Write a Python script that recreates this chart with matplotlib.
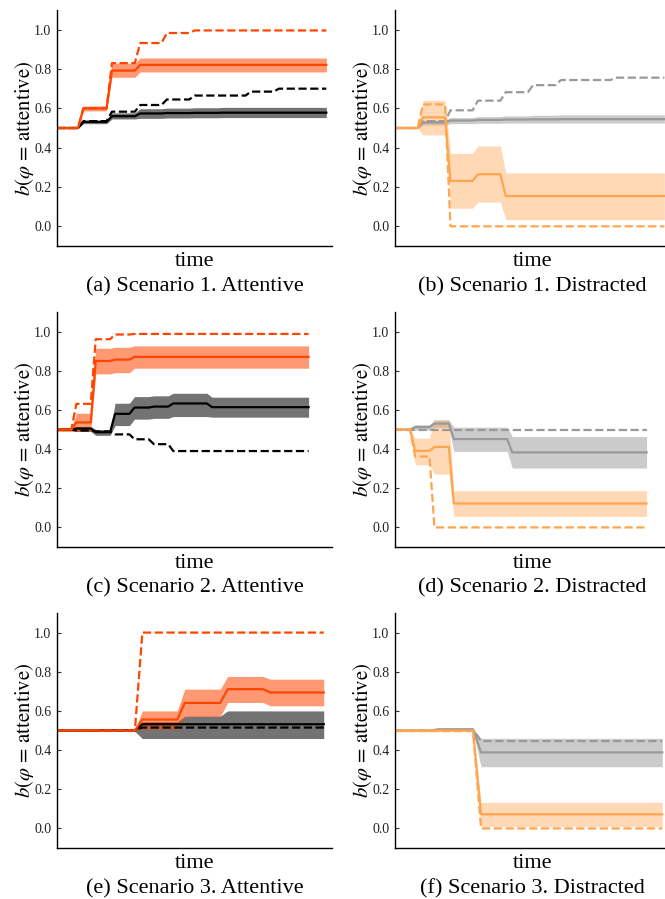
import matplotlib
matplotlib.use("Agg")
import matplotlib.pyplot as plt
import numpy as np

plt.rcParams['font.family'] = ['Liberation Serif', 'DejaVu Serif']
plt.rcParams['mathtext.fontset'] = 'stix'

### values (time runs 0..100, plateaus between belief updates)
# (a) scenario 1, attentive
chg_a = [7.8, 18.4, 28.9, 38.8, 49.1, 59.6, 70.0, 80.4, 90.7]
a_mean = [0.5, 0.60, 0.792, 0.821]
a_lo = [0.497, 0.587, 0.758, 0.785]
a_hi = [0.503, 0.612, 0.830, 0.856]
a_dash = [0.5, 0.60, 0.83, 0.932, 0.983, 0.996]
a2_mean = [0.5, 0.531, 0.56, 0.574, 0.576, 0.577, 0.578]
a2_lo = [0.497, 0.522, 0.546, 0.549, 0.551, 0.552, 0.553]
a2_hi = [0.503, 0.54, 0.577, 0.598, 0.601, 0.603, 0.605]
a2_dash = [0.5, 0.535, 0.583, 0.617, 0.645, 0.665, 0.665, 0.685, 0.70]

# (b) scenario 1, distracted
chg_b = [8.4, 18.6, 28.8, 39.1, 49.3, 59.6, 69.5, 80.0, 90.2]
b_mean = [0.5, 0.554, 0.231, 0.265, 0.154]
b_lo = [0.497, 0.465, 0.092, 0.123, 0.034]
b_hi = [0.503, 0.641, 0.371, 0.409, 0.272]
b_dash = [0.5, 0.62, 0.0]
b2_mean = [0.5, 0.528, 0.538, 0.541, 0.543, 0.544, 0.545]
b2_lo = [0.497, 0.515, 0.522, 0.524, 0.525]
b2_hi = [0.503, 0.54, 0.553, 0.558, 0.562, 0.565, 0.567]
b2_dash = [0.5, 0.535, 0.59, 0.639, 0.682, 0.718, 0.744, 0.744, 0.756]

# (c) scenario 2, attentive
chg_c = [5.7, 13.4, 21.1, 28.8, 36.5, 44.2, 51.9, 59.6, 67.3, 75.0, 82.7, 90.4]
c_mean = [0.5, 0.536, 0.85, 0.857, 0.871]
c_lo = [0.49, 0.49, 0.784, 0.79, 0.813]
c_hi = [0.51, 0.583, 0.915, 0.92, 0.927]
c_dash = [0.5, 0.631, 0.961, 0.985, 0.988]
c2_mean = [0.5, 0.505, 0.486, 0.58, 0.612, 0.617, 0.633, 0.633, 0.614]
c2_lo = [0.497, 0.49, 0.47, 0.52, 0.553, 0.557, 0.566, 0.566, 0.563]
c2_hi = [0.503, 0.515, 0.50, 0.634, 0.668, 0.672, 0.685, 0.685, 0.665]
c2_dash = [0.5, 0.495, 0.49, 0.475, 0.45, 0.425, 0.39]

# (d) scenario 2, distracted
chg_d = [6.0, 13.7, 21.4, 29.1, 36.8, 44.6, 52.3, 60.0, 67.7, 75.4, 83.2, 90.8]
d_mean = [0.5, 0.391, 0.411, 0.122]
d_lo = [0.497, 0.32, 0.272, 0.056]
d_hi = [0.503, 0.456, 0.549, 0.187]
d_dash = [0.5, 0.362, 0.0]
d2_mean = [0.5, 0.512, 0.53, 0.451, 0.451, 0.451, 0.383]
d2_lo = [0.497, 0.497, 0.51, 0.388, 0.388, 0.388, 0.303]
d2_hi = [0.503, 0.525, 0.549, 0.512, 0.512, 0.512, 0.464]
d2_dash = [0.5, 0.5]

# (e) scenario 3, attentive
chg_e = [13.2, 29.2, 45.1, 61.2, 77.2, 93.1]
e_mean = [0.5, 0.5, 0.556, 0.641, 0.711, 0.694]
e_lo = [0.497, 0.497, 0.507, 0.571, 0.643, 0.626]
e_hi = [0.503, 0.503, 0.60, 0.711, 0.776, 0.762]
e_dash = [0.5, 0.5, 1.0]
e2_mean = [0.5, 0.502, 0.532]
e2_lo = [0.497, 0.495, 0.459]
e2_hi = [0.503, 0.508, 0.545, 0.573, 0.60]
e2_dash = [0.5, 0.5, 0.515]

# (f) scenario 3, distracted
chg_f = [13.2, 29.2, 45.1, 61.2, 77.2, 93.1]
f_mean = [0.5, 0.5, 0.072]
f_lo = [0.497, 0.497, 0.01]
f_hi = [0.503, 0.503, 0.133]
f_dash = [0.497, 0.497, 0.0]
f2_mean = [0.5, 0.506, 0.388]
f2_lo = [0.497, 0.5, 0.315]
f2_hi = [0.503, 0.512, 0.46]
f2_dash = [0.5, 0.503, 0.446]

captions = ["(a) Scenario 1. Attentive", "(b) Scenario 1. Distracted",
            "(c) Scenario 2. Attentive", "(d) Scenario 2. Distracted",
            "(e) Scenario 3. Attentive", "(f) Scenario 3. Distracted"]

RED, BLACK, ORANGE, GRAY = '#ff4500', '#000000', '#ffa54f', '#999999'


def steps(changes, vals, ramp):
    n = len(changes) + 1
    vals = list(vals) + [vals[-1]] * (n - len(vals))
    starts = [0.0] + [c + ramp for c in changes]
    ends = list(changes) + [100.0]
    xs, ys = [], []
    for s, e, v in zip(starts, ends, vals):
        xs += [s, e]
        ys += [v, v]
    return np.array(xs), np.array(ys)


panels = [
    (chg_a, 2.0, 102.1, RED, 0.55, BLACK, 0.55,
     (a_mean, a_lo, a_hi, a_dash), (a2_mean, a2_lo, a2_hi, a2_dash)),
    (chg_b, 2.0, 102.1, ORANGE, 0.42, GRAY, 0.5,
     (b_mean, b_lo, b_hi, b_dash), (b2_mean, b2_lo, b2_hi, b2_dash)),
    (chg_c, 2.0, 109.3, RED, 0.55, BLACK, 0.55,
     (c_mean, c_lo, c_hi, c_dash), (c2_mean, c2_lo, c2_hi, c2_dash)),
    (chg_d, 2.0, 109.3, ORANGE, 0.42, GRAY, 0.5,
     (d_mean, d_lo, d_hi, d_dash), (d2_mean, d2_lo, d2_hi, d2_dash)),
    (chg_e, 2.8, 103.1, RED, 0.55, BLACK, 0.55,
     (e_mean, e_lo, e_hi, e_dash), (e2_mean, e2_lo, e2_hi, e2_dash)),
    (chg_f, 3.0, 102.9, ORANGE, 0.42, GRAY, 0.5,
     (f_mean, f_lo, f_hi, f_dash), (f2_mean, f2_lo, f2_hi, f2_dash)),
]

W, H = 665, 899
fig = plt.figure(figsize=(W / 100, H / 100), dpi=100)

lefts = [57, 395]
tops = [10, 312, 613]
bottoms = [246, 547, 848]
axw = 275

for i, p in enumerate(panels):
    chg, ramp, xmax, c1, al1, c2, al2, s1, s2 = p
    row, col = i // 2, i % 2
    axh = bottoms[row] - tops[row]
    ax = fig.add_axes([lefts[col] / W, (H - bottoms[row]) / H, axw / W, axh / H])

    # other-behaviour series underneath, main series on top
    for series, col_, al in [(s2, c2, al2), (s1, c1, al1)]:
        x, lo = steps(chg, series[1], ramp)
        _, hi = steps(chg, series[2], ramp)
        ax.fill_between(x, lo, hi, color=col_, alpha=al, lw=0)
    for series, col_ in [(s2, c2), (s1, c1)]:
        x, m = steps(chg, series[0], ramp)
        _, d = steps(chg, series[3], ramp)
        ax.plot(x, m, color=col_, lw=1.6)
        ax.plot(x, d, color=col_, lw=1.6, ls='--')

    ax.set_xlim(0, xmax)
    ax.set_ylim(-0.1, 1.1)
    ax.set_yticks([0.0, 0.2, 0.4, 0.6, 0.8, 1.0])
    ax.set_yticklabels(['0.0', '0.2', '0.4', '0.6', '0.8', '1.0'])
    ax.set_xticks([])
    ax.tick_params(axis='y', direction='in', length=3, width=0.8, color='#333333',
                   labelsize=10, labelcolor='#222222', pad=4)
    for s in ['top', 'right']:
        ax.spines[s].set_visible(False)
    for s in ['left', 'bottom']:
        ax.spines[s].set_linewidth(1.0)

    ax.text(-33 / axw, 0.5, r'$b(\varphi\,=\,\mathrm{attentive})$', rotation=90,
            ha='center', va='center', fontsize=15, transform=ax.transAxes)
    ax.text(0.5, -16 / axh, 'time', ha='center', va='center', fontsize=16,
            transform=ax.transAxes)
    ax.text(0.5, -41 / axh, captions[i], ha='center', va='center', fontsize=16,
            transform=ax.transAxes)

fig.savefig('out.png', dpi=100)
